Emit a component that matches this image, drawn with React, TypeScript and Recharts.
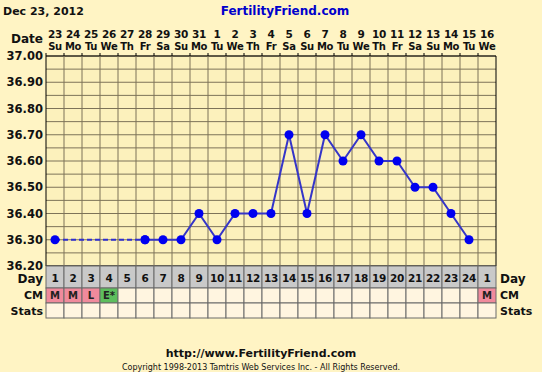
import React from "react";
import { ComposedChart, Line, XAxis, YAxis, CartesianGrid, ReferenceLine, ReferenceArea } from "recharts";

const dates = ["23", "24", "25", "26", "27", "28", "29", "30", "31", "1", "2", "3", "4", "5", "6", "7", "8", "9", "10", "11", "12", "13", "14", "15", "16"];
const weekdays = ["Su", "Mo", "Tu", "We", "Th", "Fr", "Sa", "Su", "Mo", "Tu", "We", "Th", "Fr", "Sa", "Su", "Mo", "Tu", "We", "Th", "Fr", "Sa", "Su", "Mo", "Tu", "We"];
const cycleDays = [1, 2, 3, 4, 5, 6, 7, 8, 9, 10, 11, 12, 13, 14, 15, 16, 17, 18, 19, 20, 21, 22, 23, 24, 1];
const temps: (number | null)[] = [36.3, null, null, null, null, 36.3, 36.3, 36.3, 36.4, 36.3, 36.4, 36.4, 36.4, 36.7, 36.4, 36.7, 36.6, 36.7, 36.6, 36.6, 36.5, 36.5, 36.4, 36.3, null];
const cmCodes = ["M", "M", "L", "E*", "", "", "", "", "", "", "", "", "", "", "", "", "", "", "", "", "", "", "", "", "M"];
const yTicks = [36.2, 36.25, 36.3, 36.35, 36.4, 36.45, 36.5, 36.55, 36.6, 36.65, 36.7, 36.75, 36.8, 36.85, 36.9, 36.95, 37.0];

const W = 542;
const H = 372;
const PLOT_TOP = 56;
const PLOT_BOTTOM = 266;
const PLOT_LEFT = 46;
const PLOT_RIGHT = 496;
const COL = (PLOT_RIGHT - PLOT_LEFT) / dates.length;

const FONT = "'DejaVu Sans', Verdana, sans-serif";
const BG = "#FFF4C4";
const GRID = "#7D7358";

// dashed link over the missing days: first reading and the next one recorded
const firstIdx = temps.findIndex((t) => t !== null);
const nextIdx = temps.findIndex((t, i) => i > firstIdx && t !== null);

const rows = dates.map((d, i) => ({
  idx: i + 1,
  temp: i === firstIdx ? null : temps[i],
  gap: i === firstIdx || i === nextIdx ? temps[i] : null,
}));
const idxTicks = rows.map((r) => r.idx);
const boundaries = rows.slice(0, -1).map((r) => r.idx + 0.5);

const cmFill = (code: string) => {
  if (code === "M" || code === "L") return "#F08A9C";
  if (code.startsWith("E")) return "#5DBE5D";
  return "#FFF5E0";
};

const TopTick = (props: any) => {
  const { x, payload } = props;
  const i = payload.value - 1;
  return (
    <g>
      <line x1={x - COL / 2} x2={x - COL / 2} y1={PLOT_TOP - 3} y2={PLOT_TOP} stroke="#000" />
      <text x={x} y={38} textAnchor="middle" fontFamily={FONT} fontWeight="bold" fontSize={10.5} fill="#111" letterSpacing={-0.2}>
        {dates[i]}
      </text>
      <text x={x} y={50} textAnchor="middle" fontFamily={FONT} fontWeight="bold" fontSize={10} fill="#111" letterSpacing={-0.3}>
        {weekdays[i]}
      </text>
    </g>
  );
};

const BottomTick = (props: any) => {
  const { x, payload } = props;
  const i = payload.value - 1;
  const left = x - COL / 2;
  const code = cmCodes[i];
  return (
    <g>
      <rect x={left} y={PLOT_BOTTOM} width={COL} height={22} fill="#C9C9C9" stroke="#6A6A6A" />
      <text x={x} y={282} textAnchor="middle" fontFamily={FONT} fontWeight="bold" fontSize={10.5} fill="#111" letterSpacing={-0.2}>
        {cycleDays[i]}
      </text>
      <rect x={left} y={288} width={COL} height={15} fill={cmFill(code)} stroke="#6A6A6A" />
      <text x={x} y={299} textAnchor="middle" fontFamily={FONT} fontWeight="bold" fontSize={10} fill="#222">
        {code}
      </text>
      <rect x={left} y={303} width={COL} height={15} fill="#FFF5E0" stroke="#6A6A6A" />
    </g>
  );
};

const YTick = (props: any) => {
  const { y, payload, side } = props;
  const v = payload.value as number;
  if (Math.round(v * 100) % 10 !== 0) return null;
  return (
    <text
      x={side === "left" ? PLOT_LEFT - 3 : PLOT_RIGHT + 3}
      y={y + 4}
      textAnchor={side === "left" ? "end" : "start"}
      fontFamily={FONT}
      fontWeight="bold"
      fontSize={11.5}
      fill="#111"
    >
      {v.toFixed(2)}
    </text>
  );
};

const label = (text: string, x: number, y: number, anchor: "start" | "end" | "middle", size = 12, extra: any = {}) => (
  <text x={x} y={y} textAnchor={anchor} fontFamily={FONT} fontWeight="bold" fontSize={size} fill="#111" {...extra}>
    {text}
  </text>
);

export default function App() {
  return (
    <div style={{ position: "absolute", left: 0, top: 0, width: W, height: H, background: BG, overflow: "hidden" }}>
      <ComposedChart width={W} height={H} data={rows} margin={{ top: 0, right: 0, bottom: 0, left: 0 }}>
        <XAxis
          xAxisId="top"
          orientation="top"
          type="number"
          dataKey="idx"
          domain={[0.5, 25.5]}
          ticks={idxTicks}
          interval={0}
          height={PLOT_TOP}
          axisLine={false}
          tickLine={false}
          tick={(p: any) => <TopTick {...p} />}
        />
        <XAxis
          xAxisId="bottom"
          orientation="bottom"
          type="number"
          dataKey="idx"
          domain={[0.5, 25.5]}
          ticks={idxTicks}
          interval={0}
          height={H - PLOT_BOTTOM}
          axisLine={false}
          tickLine={false}
          tick={(p: any) => <BottomTick {...p} />}
        />
        <YAxis
          yAxisId="left"
          width={PLOT_LEFT}
          domain={[36.2, 37.0]}
          ticks={yTicks}
          interval={0}
          axisLine={false}
          tickLine={false}
          tick={(p: any) => <YTick {...p} side="left" />}
        />
        <YAxis
          yAxisId="right"
          orientation="right"
          width={W - PLOT_RIGHT}
          domain={[36.2, 37.0]}
          ticks={yTicks}
          interval={0}
          axisLine={false}
          tickLine={false}
          tick={(p: any) => <YTick {...p} side="right" />}
        />
        <CartesianGrid xAxisId="top" yAxisId="left" vertical={false} stroke={GRID} fill="#FCF1BC" fillOpacity={1} />
        {boundaries.map((b) => (
          <ReferenceLine key={b} x={b} xAxisId="top" yAxisId="left" stroke={GRID} />
        ))}
        <ReferenceArea x1={0.5} x2={25.5} y1={36.2} y2={37.0} xAxisId="top" yAxisId="left" fill="none" stroke="#000" strokeWidth={1} />
        <Line
          xAxisId="top"
          yAxisId="left"
          type="linear"
          dataKey="gap"
          connectNulls
          stroke="#2F2FD0"
          strokeWidth={2}
          strokeDasharray="5 3"
          dot={{ r: 4.5, fill: "#0000F0", stroke: "#0000F0", strokeWidth: 0 }}
          isAnimationActive={false}
        />
        <Line
          xAxisId="top"
          yAxisId="left"
          type="linear"
          dataKey="temp"
          stroke="#3535C8"
          strokeWidth={2}
          dot={{ r: 4.5, fill: "#0000F0", stroke: "#0000F0", strokeWidth: 0 }}
          isAnimationActive={false}
        />
      </ComposedChart>
      <svg width={W} height={H} style={{ position: "absolute", left: 0, top: 0, pointerEvents: "none" }}>
        {label("Dec 23, 2012", 3, 15, "start", 11)}
        {label("FertilityFriend.com", 285, 15, "middle", 12, { fill: "#0000CC" })}
        {label("Date", PLOT_LEFT - 3, 43, "end", 12)}
        {label("Day", PLOT_LEFT - 3, 283, "end", 12)}
        {label("CM", PLOT_LEFT - 3, 299, "end", 11)}
        {label("Stats", PLOT_LEFT - 3, 315, "end", 11)}
        {label("Day", PLOT_RIGHT + 4, 283, "start", 12)}
        {label("CM", PLOT_RIGHT + 4, 299, "start", 11)}
        {label("Stats", PLOT_RIGHT + 4, 315, "start", 11)}
        {label("http://www.FertilityFriend.com", 261, 357, "middle", 11)}
        <text x={261} y={370} textAnchor="middle" fontFamily={FONT} fontSize={8} fill="#111">
          Copyright 1998-2013 Tamtris Web Services Inc. - All Rights Reserved.
        </text>
      </svg>
    </div>
  );
}
